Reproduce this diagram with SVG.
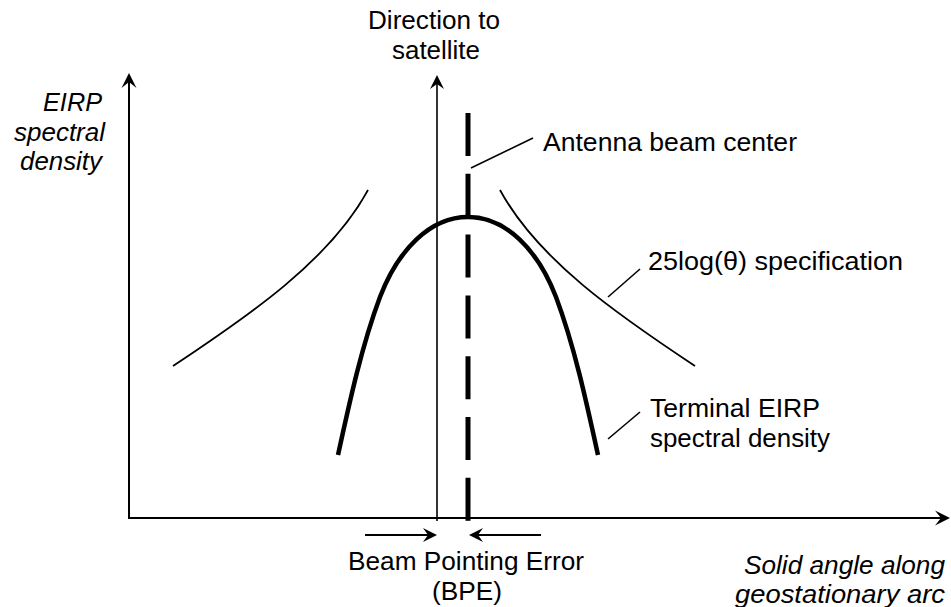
<svg xmlns="http://www.w3.org/2000/svg" width="951" height="607" viewBox="0 0 951 607">
<style>
text{font-family:"Liberation Sans",Arial,sans-serif;font-size:25px;fill:#000}
.it{font-style:italic}
.ln{fill:none;stroke:#000}
</style>
<defs>
<marker id="ah" markerUnits="userSpaceOnUse" viewBox="-12 -8 18 16" refX="0" refY="0" markerWidth="18" markerHeight="16" orient="auto">
<path d="M4,0 L-11,-7.5 L-5,0 L-11,7.5 Z" fill="#000"/>
</marker>
<marker id="ah2" markerUnits="userSpaceOnUse" viewBox="-12 -8 18 16" refX="0" refY="0" markerWidth="18" markerHeight="16" orient="auto">
<path d="M4,0 L-10,-7 L-5,0 L-10,7 Z" fill="#000"/>
</marker>
</defs>
<rect width="951" height="607" fill="#fff"/>
<g id="axes">
<line class="ln" x1="129" y1="519" x2="129" y2="77" stroke-width="2" marker-end="url(#ah)"/>
<line class="ln" x1="128" y1="518" x2="946" y2="518" stroke-width="2" marker-end="url(#ah)"/>
</g>
<g id="direction">
<line class="ln" x1="437" y1="521" x2="437" y2="79" stroke-width="1.6" marker-end="url(#ah2)"/>
<text x="434" y="29" text-anchor="middle" textLength="132" lengthAdjust="spacingAndGlyphs">Direction to</text>
<text x="436" y="59" text-anchor="middle" textLength="88" lengthAdjust="spacingAndGlyphs">satellite</text>
</g>
<g id="beam-center">
<line class="ln" x1="468" y1="113" x2="468" y2="521" stroke-width="5" stroke-dasharray="43 17.8"/>
</g>
<g id="spec-curves">
<path class="ln" d="M173,366 C250,315 330,260 368,190" stroke-width="1.8"/>
<path class="ln" d="M500,190 C538,260 618,315 695,366" stroke-width="1.8"/>
</g>
<g id="terminal-curve">
<path class="ln" d="M338,455 C350,400 362,345 380,297 C398,250 430,217 468,217 C506,217 538,250 556,297 C574,345 586,400 598,455" stroke-width="4.5"/>
</g>
<g id="bpe">
<line class="ln" x1="365" y1="535" x2="433" y2="535" stroke-width="2" marker-end="url(#ah2)"/>
<line class="ln" x1="541" y1="535" x2="473" y2="535" stroke-width="2" marker-end="url(#ah2)"/>
<text x="466" y="570" text-anchor="middle" textLength="236" lengthAdjust="spacingAndGlyphs">Beam Pointing Error</text>
<text x="467" y="600" text-anchor="middle" textLength="70" lengthAdjust="spacingAndGlyphs">(BPE)</text>
</g>
<g id="connectors">
<line class="ln" x1="471" y1="168" x2="533" y2="138" stroke-width="1.6"/>
<line class="ln" x1="608" y1="297" x2="640" y2="269" stroke-width="1.6"/>
<line class="ln" x1="608" y1="439" x2="640" y2="412" stroke-width="1.6"/>
</g>
<g id="labels">
<text x="543" y="151" textLength="254" lengthAdjust="spacingAndGlyphs">Antenna beam center</text>
<text x="648" y="270" textLength="255" lengthAdjust="spacingAndGlyphs">25log(θ) specification</text>
<text x="650" y="417" textLength="170" lengthAdjust="spacingAndGlyphs">Terminal EIRP</text>
<text x="650" y="447" textLength="180" lengthAdjust="spacingAndGlyphs">spectral density</text>
</g>
<g id="y-label">
<text class="it" x="102" y="111" text-anchor="end" textLength="59" lengthAdjust="spacingAndGlyphs">EIRP</text>
<text class="it" x="105" y="141" text-anchor="end" textLength="91" lengthAdjust="spacingAndGlyphs">spectral</text>
<text class="it" x="102" y="170" text-anchor="end" textLength="82" lengthAdjust="spacingAndGlyphs">density</text>
</g>
<g id="x-label">
<text class="it" x="945" y="574" text-anchor="end" textLength="201" lengthAdjust="spacingAndGlyphs">Solid angle along</text>
<text class="it" x="945" y="603" text-anchor="end" textLength="210" lengthAdjust="spacingAndGlyphs">geostationary arc</text>
</g>
</svg>
